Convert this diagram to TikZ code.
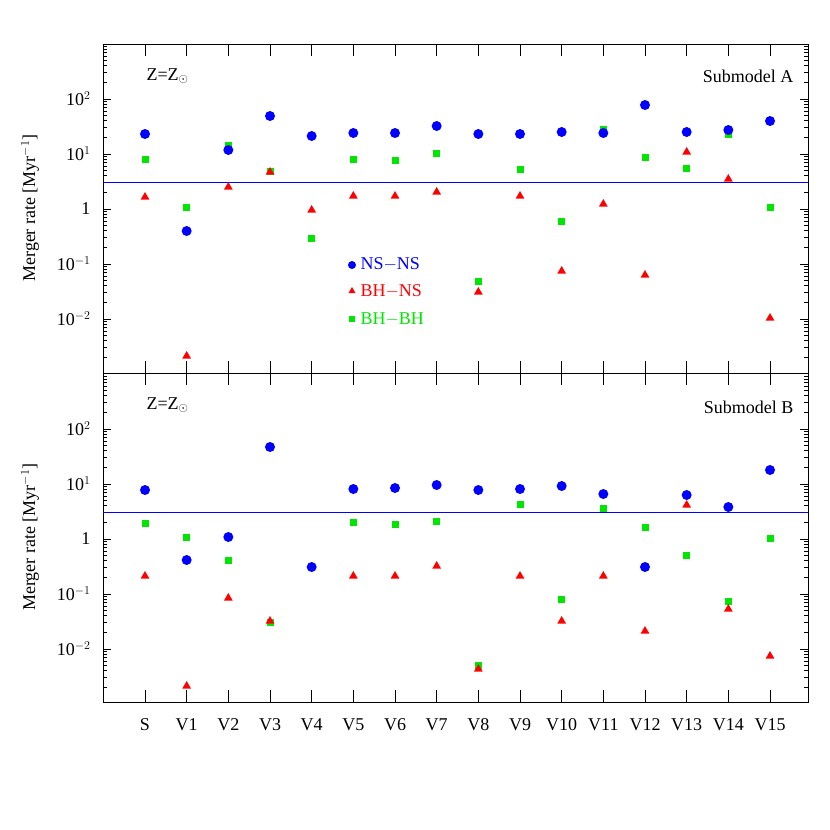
\documentclass[tikz,border=0pt]{standalone}
\usepackage{fontspec}
\setmainfont{Liberation Serif}
\usetikzlibrary{shapes.geometric}
\begin{document}
\begin{tikzpicture}[x=1pt,y=-1pt]
\useasboundingbox (0,0) rectangle (830,830);
\definecolor{pblue}{RGB}{0,0,255}
\definecolor{pred}{RGB}{255,0,0}
\definecolor{pgreen}{RGB}{0,230,0}
\tikzset{ns/.style={circle,fill=pblue,inner sep=0,minimum size=10pt},
 bhns/.style={regular polygon,regular polygon sides=3,fill=pred,inner sep=0,minimum size=10pt},
 bhbh/.style={rectangle,fill=pgreen,inner sep=0,minimum size=7pt},
 lab/.style={font=\fontsize{18}{20}\selectfont},
 ax/.style={line width=0.8pt}}
\foreach \top/\base in {44/209,373/539}{
  \draw[ax] (103,\top) rectangle (808,\top+329);
  \foreach \i in {0,...,15}{
    \draw[ax] ({145+41.667*\i},\top) -- ++(0,12);
    \draw[ax] ({145+41.667*\i},\top+329) -- ++(0,-12);}
  \foreach \d in {-3,...,2}{
    \ifnum\d>-3 \draw[ax] (103,{\base-55*\d}) -- ++(8,0); \draw[ax] (808,{\base-55*\d}) -- ++(-8,0);\fi
    \foreach \k in {2,...,9}{
      \draw[ax] (103,{\base-55*(\d+log10(\k))}) -- ++(4,0);
      \draw[ax] (808,{\base-55*(\d+log10(\k))}) -- ++(-4,0);}}
  \node[lab,anchor=east] at (94,\base-110) {10$^{2}$};
  \node[lab,anchor=east] at (94,\base-55) {10$^{1}$};
  \node[lab,anchor=east] at (94,\base) {1};
  \node[lab,anchor=east] at (94,\base+55) {10$^{-1}$};
  \node[lab,anchor=east] at (94,\base+110) {10$^{-2}$};
  \node[lab,rotate=90] at (30,\top+164) {Merger rate [Myr$^{-1}$]};
  \node[lab,anchor=west] at (143,\top+32) {Z=Z$_{\odot}$};
  \draw[pblue,line width=0.8pt] (103,{\base-55*log10(3)}) -- (808,{\base-55*log10(3)});
}
\node[lab,anchor=east] (sa) at (797,76) {Submodel A};
\node[lab,anchor=east] (sb) at (797,407) {Submodel B};
\foreach \n [count=\i from 0] in {S,V1,V2,V3,V4,V5,V6,V7,V8,V9,V10,V11,V12,V13,V14,V15}
  \node[lab] (x\i) at ({145+41.667*\i},725) {\n};
\foreach \b/\g/\r [count=\i from 0] in {134/159/197,231/207/356,150/145/187,116/171/172,136/238/210,133/159/196,133/160/196,126/153/192,134/281/292,134/169/196,132/221/271,133/129/204,105/157/275,132/168/152,130/134/179,121/207/318}{
  \node[bhbh] (ga\i) at ({145+41.667*\i},\g) {};
  \node[ns] (na\i) at ({145+41.667*\i},\b) {};
  \node[bhns] (ra\i) at ({145+41.667*\i},\r) {};}
\foreach \b/\g/\r [count=\i from 0] in {490/523/576,560/537/686,537/560/598,447/622/621,567/-99/-99,489/522/576,488/524/576,485/521/566,490/665/669,489/504/576,486/599/621,494/508/576,567/527/631,495/555/505,507/601/609,470/538/656}{
  \ifnum\g>0 \node[bhbh] (gb\i) at ({145+41.667*\i},\g) {};\fi
  \node[ns] (nb\i) at ({145+41.667*\i},\b) {};
  \ifnum\r>0 \node[bhns] (rb\i) at ({145+41.667*\i},\r) {};\fi}
\node[ns,minimum size=8pt] (l1) at (352,265) {};
\node[lab,anchor=west,text=pblue] (t1) at (357,264) {NS$-$NS};
\node[bhns,minimum size=8pt] (l2) at (352,291) {};
\node[lab,anchor=west,text=pred] (t2) at (357,291) {BH$-$NS};
\node[bhbh,minimum size=6pt] (l3) at (352,319) {};
\node[lab,anchor=west,text=pgreen] (t3) at (357,319) {BH$-$BH};
\end{tikzpicture}
\end{document}
